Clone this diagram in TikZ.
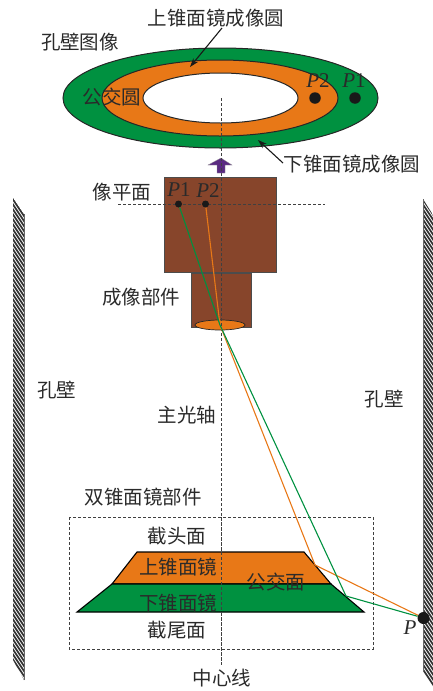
\documentclass[tikz,border=0pt]{standalone}
\usepackage{fontspec}
\setmainfont{Noto Sans CJK SC}
\newfontfamily\latinserif{Liberation Serif}
\usetikzlibrary{arrows.meta,shapes.geometric}
\definecolor{mirrorgreen}{HTML}{009140}
\definecolor{mirrororange}{HTML}{E87817}
\definecolor{bodybrown}{HTML}{87452B}
\definecolor{arrowpurple}{HTML}{5A2A82}
\definecolor{inkgrey}{HTML}{2A2A2A}
\tikzset{
  lbl/.style={font=\fontsize{19.5}{21}\selectfont, text=inkgrey, inner sep=0pt},
  pt/.style={font=\latinserif\fontsize{21}{23}\selectfont, text=inkgrey, inner sep=0pt},
  blob/.style={circle, fill=black!90, inner sep=0pt, minimum size=#1},
  guide/.style={densely dashed, line width=0.8pt, black!75},
  outline/.style={draw=black!85, line width=1pt},
  pointer/.style={-{Stealth[length=9pt,width=6pt]}, line width=1.1pt, black!90},
  rayg/.style={mirrorgreen, line width=1.1pt},
  rayo/.style={mirrororange, line width=1.1pt},
  wallhatch/.style={line width=1.7pt, black!80}
}
\begin{document}
\begin{tikzpicture}[x=1pt,y=-1pt]
\useasboundingbox (0,0) rectangle (433,691);

% annular image on the sensor side
\filldraw[fill=mirrorgreen, outline] (220.5,98) ellipse [x radius=157.5, y radius=50];
\filldraw[fill=mirrororange, outline] (220,98) ellipse [x radius=118, y radius=38];
\filldraw[fill=white, outline] (220.5,98) ellipse [x radius=77.5, y radius=25];

% imaging unit
\filldraw[fill=bodybrown, draw=black!70, line width=0.8pt] (164,177) rectangle (276,272);
\filldraw[fill=bodybrown, draw=black!70, line width=0.8pt] (191,273) rectangle (251,327);
\node[ellipse, minimum width=50pt, minimum height=10pt, inner sep=0pt, fill=mirrororange, draw=black!85, line width=0.7pt] (lens) at (220,325) {};

% axes
\draw[guide] (221.5,98) -- (221.5,665);
\draw[guide] (118,204) -- (325,204);
\draw[guide] (69,517) rectangle (373,649);

% viewing direction marker
\filldraw[fill=arrowpurple, draw=black!40, line width=0.3pt]
  (221,158) -- (232,165) -- (225,165) -- (225,173) -- (217,173) -- (217,165) -- (208,165) -- cycle;
\draw[guide] (221.5,158) -- (221.5,173);

% double cone mirror
\filldraw[fill=mirrororange, draw=black, line width=1.1pt] (137,552) -- (304,552) -- (331,584) -- (112,584) -- cycle;
\filldraw[fill=mirrorgreen, draw=black, line width=1.1pt] (112,584) -- (331,584) -- (364,612) -- (77,612) -- cycle;
\draw[guide] (221.5,517) -- (221.5,665);

% hole walls
\begin{scope}
  \clip (13,198) -- (24,214) -- (24,680) -- (13,660) -- cycle;
  \foreach \k in {0,5,...,500}
    \draw[wallhatch] (10,190+\k) -- (26,214+\k);
\end{scope}
\draw[line width=1pt, black!60] (24,214) -- (24,680);
\begin{scope}
  \clip (423,199) -- (433,215) -- (433,686) -- (423,672) -- cycle;
  \foreach \k in {0,5,...,500}
    \draw[wallhatch] (420,190+\k) -- (436,214+\k);
\end{scope}
\draw[line width=1pt, black!60] (423,199) -- (423,672);

% marked points
\node[blob=12pt] (w) at (423.5,618) {};
\node[blob=11.5pt] (q1) at (355,98) {};
\node[blob=11.5pt] (q2) at (315,98) {};
\node[blob=7pt] (s1) at (178.5,204) {};
\node[blob=7pt] (s2) at (205.5,204) {};
\coordinate (ho) at (315,565);
\coordinate (hg) at (346,596);
\coordinate (lo) at (220,325);

% rays
\draw[rayo] (s2) -- (lo) -- (ho) -- (w);
\draw[rayg] (s1) -- (lo) -- (hg) -- (w);

% leader arrows
\coordinate (a1) at (222,28);
\coordinate (a2) at (190,67);
\coordinate (b1) at (283,163);
\coordinate (b2) at (258,140);
\draw[pointer] (a1) -- (a2);
\draw[pointer] (b1) -- (b2);

% labels
\node[lbl] (t1) at (216,18) {上锥面镜成像圆};
\node[lbl] (t2) at (80,42) {孔壁图像};
\node[lbl] (t3) at (112,97) {公交圆};
\node[lbl] (t4) at (352,164) {下锥面镜成像圆};
\node[lbl] (t5) at (122,192) {像平面};
\node[lbl] (t6) at (141,297) {成像部件};
\node[lbl] (t7) at (57,390) {孔壁};
\node[lbl] (t8) at (384,399) {孔壁};
\node[lbl] (t9) at (187,415) {主光轴};
\node[lbl] (t10) at (143,497) {双锥面镜部件};
\node[lbl] (t11) at (177,536) {截头面};
\node[lbl] (t12) at (178,567) {上锥面镜};
\node[lbl] (t13) at (276,582) {公交面};
\node[lbl] (t14) at (178,603) {下锥面镜};
\node[lbl] (t15) at (177,630) {截尾面};
\node[lbl] (t16) at (222,678) {中心线};

\node[pt] (p1) at (354,81) {\textit{P}1};
\node[pt] (p2) at (318,81) {\textit{P}2};
\node[pt] (p3) at (179,190) {\textit{P}1};
\node[pt] (p4) at (208,191) {\textit{P}2};
\node[pt] (p5) at (410,628) {\textit{P}};
\end{tikzpicture}
\end{document}
